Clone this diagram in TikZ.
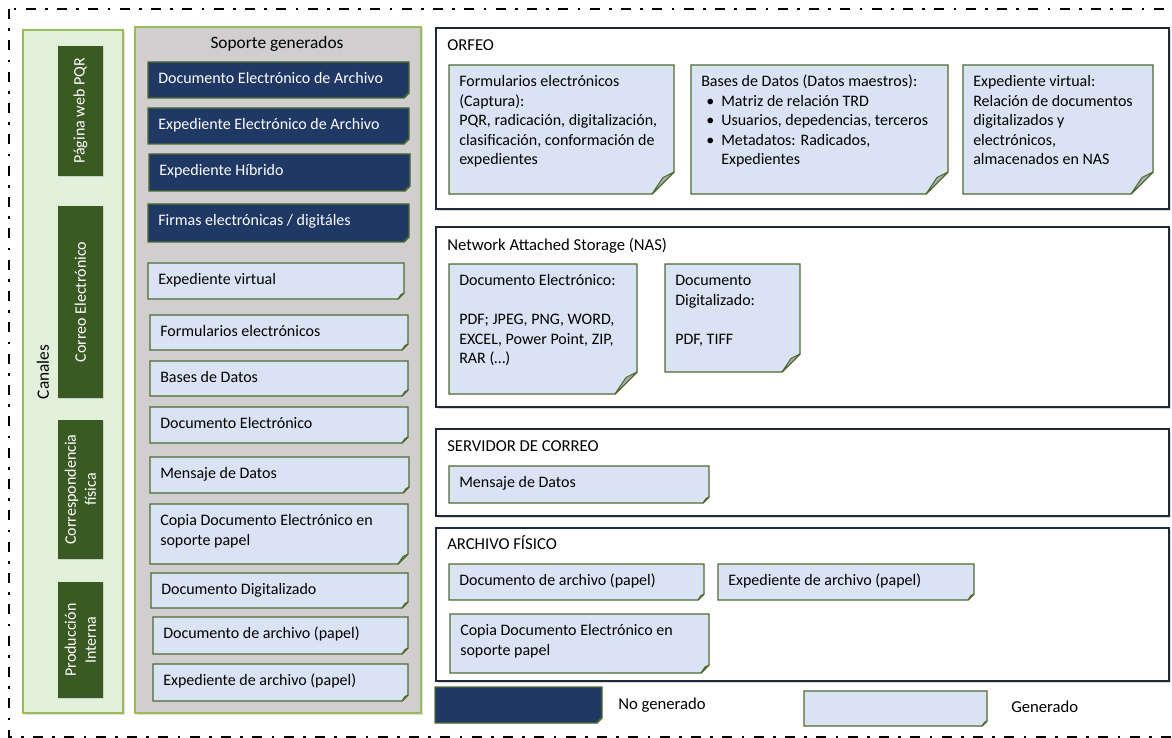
\documentclass[tikz,border=0pt]{standalone}
\usepackage{fontspec}
\setmainfont{Carlito}
\usetikzlibrary{shadows}

\definecolor{navyfill}{HTML}{1F3864}
\definecolor{bluefill}{HTML}{DAE3F3}
\definecolor{cardedge}{HTML}{4F6B2F}
\definecolor{foldgray}{HTML}{A9AEB2}
\definecolor{channelgreen}{HTML}{3A5A24}
\definecolor{panelgreen}{HTML}{E2EFDA}
\definecolor{paneledge}{HTML}{9BBB59}
\definecolor{panelgray}{HTML}{D0CECE}
\definecolor{boxedge}{HTML}{1E2A38}

\tikzset{
  cardnavy/.style={fill=navyfill, draw=cardedge, line width=0.9pt},
  cardblue/.style={fill=bluefill, draw=cardedge, line width=0.9pt},
  foldpart/.style={fill=foldgray, draw=cardedge, line width=0.8pt, line join=round},
  cardtext/.style={anchor=north west, inner sep=0pt, align=left,
    font=\fontsize{12}{14.6}\selectfont},
  rcardtext/.style={anchor=north west, inner sep=0pt, align=left,
    font=\fontsize{12}{14.6}\selectfont},
  panel/.style={line width=1.3pt, draw=paneledge,
    drop shadow={opacity=0.25, shadow xshift=1.2pt, shadow yshift=-1.2pt}},
  bigbox/.style={draw=boxedge, line width=2pt, fill=white,
    drop shadow={opacity=0.3, shadow xshift=1.2pt, shadow yshift=-1.2pt}},
  boxtitle/.style={anchor=base west, inner sep=0pt, font=\fontsize{12.5}{15}\selectfont},
  channel/.style={fill=channelgreen, draw=none,
    drop shadow={opacity=0.25, shadow xshift=1pt, shadow yshift=-1pt}},
  channeltext/.style={rotate=90, text=white, align=center, inner sep=0pt,
    font=\fontsize{12}{15}\selectfont},
  frame/.style={line width=2pt,
    dash pattern=on 7.5pt off 7pt on 2pt off 7pt},
}

% Note card with a folded bottom-right corner:
% #1 name, #2 x1, #3 y1, #4 x2, #5 y2, #6 fold size, #7 card style, #8 text, #9 text options
\newcommand\notecard[9]{%
  \draw[#7] (#2,#3) -- (#4,#3) -- (#4,{#5-#6}) -- ({#4-#6},#5) -- (#2,#5) -- cycle;
  \draw[foldpart] (#4,{#5-#6}) -- ({#4-0.5*#6},{#5-0.75*#6}) -- ({#4-#6},#5) -- cycle;
  \node[#9] (#1) at ({#2+10},{#3+8}) {\strut #8};
}

\begin{document}
\begin{tikzpicture}[x=0.75pt, y=-0.75pt]
\useasboundingbox (0,0) rectangle (1172,738);

% outer dash-dot frame
\draw[frame] (9,9) rectangle (1190,737);

% channels panel
\path[panel, fill=panelgreen] (23,30) rectangle (123,713);
\node[rotate=90, inner sep=0pt, font=\fontsize{13}{15}\selectfont] (canales) at (43,372) {Canales};
\path[channel] (58,46) rectangle (103,176);
\node[channeltext] (pqr) at (80.5,111) {Página web PQR};
\path[channel] (58,206) rectangle (103,398);
\node[channeltext] (correo) at (80.5,302) {Correo Electrónico};
\path[channel] (58,420) rectangle (103,559);
\node[channeltext] (corresp) at (80.5,489.5) {Correspondencia\\física};
\path[channel] (58,582) rectangle (103,698);
\node[channeltext] (produccion) at (80.5,640) {Producción\\Interna};

% supports panel
\path[panel, fill=panelgray] (135,27) rectangle (421,713);
\node[inner sep=0pt, font=\fontsize{13}{15}\selectfont] (soporte) at (277,44) {Soporte generados};

\notecard{s1}{148}{62}{409}{98}{5}{cardnavy}{Documento Electrónico de Archivo}{cardtext, text=white}
\notecard{s2}{148}{108}{409}{144}{5}{cardnavy}{Expediente Electrónico de Archivo}{cardtext, text=white}
\notecard{s3}{149}{154}{410}{191}{5}{cardnavy}{Expediente Híbrido}{cardtext, text=white}
\notecard{s4}{148}{204}{409}{242}{5}{cardnavy}{Firmas electrónicas / digitáles}{cardtext, text=white}
\notecard{s5}{148}{263}{404}{299}{6}{cardblue}{Expediente virtual}{cardtext}
\notecard{s6}{150}{315}{408}{350}{6}{cardblue}{Formularios electrónicos}{cardtext}
\notecard{s7}{150}{361}{408}{396}{6}{cardblue}{Bases de Datos}{cardtext}
\notecard{s8}{150}{407}{408}{443}{6}{cardblue}{Documento Electrónico}{cardtext}
\notecard{s9}{150}{457}{409}{493}{6}{cardblue}{Mensaje de Datos}{cardtext}
\notecard{s10}{150}{504}{408}{564}{10}{cardblue}{Copia Documento Electrónico en\\soporte papel}{cardtext}
\notecard{s11}{151}{573}{408}{608}{6}{cardblue}{Documento Digitalizado}{cardtext}
\notecard{s12}{153}{617}{408}{654}{6}{cardblue}{Documento de archivo (papel)}{cardtext}
\notecard{s13}{153}{664}{408}{701}{6}{cardblue}{Expediente de archivo (papel)}{cardtext}

% ORFEO
\path[bigbox] (436,28) rectangle (1169,209);
\node[boxtitle] (orfeo) at (447,51) {ORFEO};
\notecard{o1}{449}{65}{674}{194}{22}{cardblue}{Formularios electrónicos\\(Captura):\\PQR, radicación, digitalización,\\clasificación, conformación de\\expedientes}{rcardtext}
\notecard{o2}{691}{65}{948}{194}{22}{cardblue}{Bases de Datos (Datos maestros):\\
  \hspace*{3.75pt}\makebox[11.25pt][l]{•}Matriz de relación TRD\\
  \hspace*{3.75pt}\makebox[11.25pt][l]{•}Usuarios, depedencias, terceros\\
  \hspace*{3.75pt}\makebox[11.25pt][l]{•}Metadatos: Radicados,\\
  \hspace*{15pt}Expedientes}{rcardtext}
\notecard{o3}{963}{65}{1153}{194}{22}{cardblue}{Expediente virtual:\\Relación de documentos\\digitalizados y\\electrónicos,\\almacenados en NAS}{rcardtext}

% NAS
\path[bigbox] (436,227) rectangle (1169,407);
\node[boxtitle] (nas) at (447,251) {Network Attached Storage (NAS)};
\notecard{n1}{449}{264}{637}{394}{22}{cardblue}{Documento Electrónico:\\ \\PDF; JPEG, PNG, WORD,\\EXCEL, Power Point, ZIP,\\RAR (…)}{rcardtext}
\notecard{n2}{665}{264}{800}{372}{18}{cardblue}{Documento\\Digitalizado:\\ \\PDF, TIFF}{rcardtext}

% mail server
\path[bigbox] (436,429) rectangle (1169,516);
\node[boxtitle] (correoserv) at (447,451) {SERVIDOR DE CORREO};
\notecard{m1}{449}{466}{709}{503}{6}{cardblue}{Mensaje de Datos}{rcardtext}

% physical archive
\path[bigbox] (436,528) rectangle (1169,681);
\node[boxtitle] (archivo) at (447,549) {ARCHIVO FÍSICO};
\notecard{a1}{449}{564}{704}{600}{6}{cardblue}{Documento de archivo (papel)}{rcardtext}
\notecard{a2}{718}{564}{974}{600}{6}{cardblue}{Expediente de archivo (papel)}{rcardtext}
\notecard{a3}{450}{614}{709}{673}{8}{cardblue}{Copia Documento Electrónico en\\soporte papel}{rcardtext}

% legend
\notecard{lnavy}{435}{687}{602}{723}{5}{cardnavy}{}{rcardtext}
\node[boxtitle] (nogen) at (618,709) {No generado};
\notecard{lblue}{804}{691}{987}{726}{5}{cardblue}{}{rcardtext}
\node[boxtitle] (gen) at (1011,712) {Generado};
\end{tikzpicture}
\end{document}
